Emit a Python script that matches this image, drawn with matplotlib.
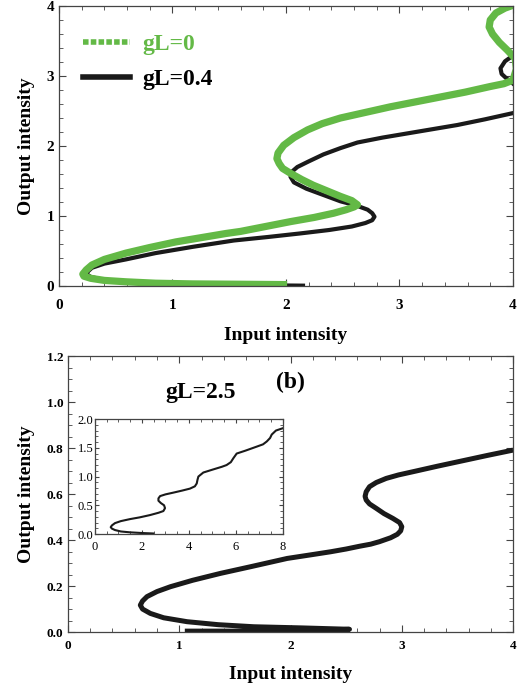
import matplotlib
matplotlib.use("Agg")
import matplotlib.pyplot as plt
from matplotlib.lines import Line2D
from matplotlib.ticker import MultipleLocator, FormatStrFormatter

plt.rcParams['font.family'] = ['Liberation Serif', 'DejaVu Serif']

# ---- panel (a): points (input, output) ----
green_in = [2.01, 1.60, 1.17, 0.85, 0.59, 0.40, 0.28, 0.22, 0.21, 0.24, 0.29, 0.40, 0.59, 0.80,
            1.03, 1.25, 1.47, 1.60, 1.82, 2.04, 2.25, 2.42, 2.53, 2.60, 2.63, 2.58, 2.48, 2.36,
            2.24, 2.14, 2.04, 1.97, 1.94, 1.92, 1.93, 1.98, 2.07, 2.19, 2.32, 2.48, 2.70, 2.92,
            3.14, 3.36, 3.58, 3.80, 3.92, 4.00, 4.03, 4.02, 3.95, 3.88, 3.82, 3.79, 3.80, 3.85,
            3.93, 4.00]
green_out = [0.02, 0.025, 0.03, 0.04, 0.06, 0.08, 0.11, 0.14, 0.17, 0.23, 0.30, 0.38, 0.47, 0.55,
             0.63, 0.69, 0.75, 0.78, 0.85, 0.92, 0.98, 1.04, 1.09, 1.13, 1.16, 1.22, 1.28, 1.36,
             1.44, 1.52, 1.61, 1.68, 1.75, 1.82, 1.90, 2.01, 2.12, 2.23, 2.32, 2.40, 2.48, 2.56,
             2.63, 2.70, 2.77, 2.85, 2.89, 2.94, 3.10, 3.25, 3.37, 3.48, 3.60, 3.70, 3.80, 3.90,
             3.97, 4.01]

black_in = [2.15, 1.80, 1.40, 1.00, 0.70, 0.50, 0.36, 0.28, 0.25, 0.25, 0.29, 0.40, 0.59, 0.85,
            1.18, 1.54, 1.84, 2.12, 2.38, 2.58, 2.70, 2.76, 2.78, 2.76, 2.72, 2.62, 2.48, 2.33,
            2.18, 2.07, 2.04, 2.05, 2.10, 2.20, 2.33, 2.48, 2.63, 2.85, 3.07, 3.29, 3.51, 3.75,
            4.00]
black_out = [0.005, 0.01, 0.02, 0.03, 0.05, 0.07, 0.10, 0.13, 0.16, 0.20, 0.26, 0.32, 0.38, 0.47,
             0.56, 0.65, 0.70, 0.75, 0.80, 0.85, 0.90, 0.94, 0.99, 1.04, 1.09, 1.15, 1.21, 1.30,
             1.39, 1.48, 1.56, 1.63, 1.70, 1.78, 1.88, 1.97, 2.05, 2.12, 2.18, 2.24, 2.30, 2.38,
             2.47]
black_loop_in = [4.03, 3.99, 3.93, 3.89, 3.90, 3.94, 3.98, 4.03]
black_loop_out = [3.33, 3.28, 3.21, 3.11, 3.03, 2.97, 2.92, 2.85]

# ---- panel (b): gL=2.5 ----
b_in = [1.05, 1.60, 2.10, 2.53, 2.10, 1.67, 1.35, 1.07, 0.86, 0.74, 0.67, 0.65, 0.67, 0.71,
        0.80, 0.92, 1.12, 1.37, 1.65, 1.97, 2.20, 2.36, 2.50, 2.62, 2.72, 2.80, 2.90, 2.96,
        2.99, 3.00, 2.98, 2.92, 2.84, 2.77, 2.71, 2.68, 2.67, 2.68, 2.71, 2.77, 2.86, 2.97,
        3.10, 3.32, 3.55, 3.77, 4.00]
b_out = [0.004, 0.004, 0.004, 0.012, 0.018, 0.023, 0.032, 0.045, 0.062, 0.081, 0.100, 0.117,
         0.135, 0.154, 0.176, 0.197, 0.225, 0.255, 0.285, 0.320, 0.337, 0.349, 0.361, 0.373,
         0.382, 0.393, 0.410, 0.425, 0.440, 0.458, 0.476, 0.494, 0.515, 0.538, 0.557, 0.574,
         0.590, 0.610, 0.632, 0.650, 0.668, 0.683, 0.697, 0.721, 0.745, 0.768, 0.791]

inset_in = [2.48, 2.00, 1.49, 1.10, 0.85, 0.72, 0.67, 0.72, 0.85, 1.10, 1.49, 1.90, 2.34, 2.70,
            2.91, 2.98, 2.94, 2.80, 2.70, 2.70, 2.77, 3.00, 3.33, 3.70, 4.04, 4.25, 4.33, 4.36,
            4.40, 4.61, 5.00, 5.40, 5.60, 5.78, 5.89, 6.03, 6.40, 6.88, 7.15, 7.31, 7.45, 7.52,
            7.70, 7.99]
inset_out = [0.01, 0.018, 0.03, 0.045, 0.07, 0.095, 0.12, 0.15, 0.19, 0.225, 0.26, 0.29, 0.33,
             0.37, 0.40, 0.45, 0.50, 0.54, 0.58, 0.62, 0.66, 0.69, 0.72, 0.755, 0.79, 0.83,
             0.88, 0.94, 1.00, 1.07, 1.12, 1.17, 1.20, 1.25, 1.32, 1.40, 1.45, 1.52, 1.56,
             1.61, 1.67, 1.73, 1.80, 1.84]

green = '#63b946'
ink = '#1a1a1a'
bold = dict(fontweight='bold')


def style(ax, xmin, ymin, fs, weight='bold'):
    ax.tick_params(which='both', direction='in', top=True, right=True, labelsize=fs,
                   colors='#444444', labelcolor='black')
    ax.tick_params(which='major', length=5, width=0.8)
    ax.tick_params(which='minor', length=3, width=0.6)
    ax.xaxis.set_minor_locator(MultipleLocator(xmin))
    ax.yaxis.set_minor_locator(MultipleLocator(ymin))
    for s in ax.spines.values():
        s.set_color('#444444')
        s.set_linewidth(0.9)
    for lab in ax.get_xticklabels() + ax.get_yticklabels():
        lab.set_fontweight(weight)


fig = plt.figure(figsize=(5.23, 6.9), dpi=100)

ax1 = fig.add_axes([0.1128, 0.5855, 0.868, 0.4058])
ax1.plot(black_in, black_out, color=ink, lw=3.0, solid_joinstyle='round')
ax1.plot(black_loop_in, black_loop_out, color=ink, lw=3.0, solid_joinstyle='round')
ax1.plot(green_in, green_out, color=green, lw=5.2, solid_joinstyle='round',
         solid_capstyle='butt')
ax1.set_xlim(0, 4)
ax1.set_ylim(0, 4)
ax1.xaxis.set_major_locator(MultipleLocator(1))
ax1.yaxis.set_major_locator(MultipleLocator(1))
style(ax1, 0.2, 0.2, 11)
ax1.tick_params(axis='x', pad=9)
ax1.set_xlabel('Input intensity', fontsize=14, labelpad=11, **bold)
ax1.set_ylabel('Output intensity', fontsize=14, labelpad=8, **bold)
handles = [Line2D([], [], color=green, lw=4, dashes=(1.0, 0.4)),
           Line2D([], [], color=ink, lw=4)]
leg = ax1.legend(handles, ['gL=0', 'gL=0.4'], loc='upper left', frameon=False,
                 prop=dict(size=17, weight='bold'), handlelength=2.0, handletextpad=0.55,
                 labelspacing=0.55, borderaxespad=0.6, bbox_to_anchor=(0.0, 0.985))
leg.get_texts()[0].set_color(green)

ax2 = fig.add_axes([0.130, 0.084, 0.851, 0.400])
ax2.plot(b_in, b_out, color=ink, lw=3.6, solid_joinstyle='round', solid_capstyle='butt')
ax2.set_xlim(0, 4)
ax2.set_ylim(0, 1.2)
ax2.xaxis.set_major_locator(MultipleLocator(1))
ax2.yaxis.set_major_locator(MultipleLocator(0.2))
ax2.yaxis.set_major_formatter(FormatStrFormatter('%.1f'))
style(ax2, 0.2, 0.05, 9.5)
ax2.tick_params(axis='x', pad=6)
ax2.set_xlabel('Input intensity', fontsize=14, labelpad=10, **bold)
ax2.set_ylabel('Output intensity', fontsize=14, labelpad=8, **bold)
ax2.text(1.19, 1.04, 'gL=2.5', fontsize=17, ha='center', va='center', **bold)
ax2.text(2.0, 1.085, '(b)', fontsize=17, ha='center', va='center', **bold)

ax3 = fig.add_axes([0.1816, 0.226, 0.3595, 0.1667])
ax3.plot(inset_in, inset_out, color=ink, lw=1.5, solid_joinstyle='round')
ax3.set_xlim(0, 8)
ax3.set_ylim(0, 2.0)
ax3.xaxis.set_major_locator(MultipleLocator(2))
ax3.yaxis.set_major_locator(MultipleLocator(0.5))
ax3.yaxis.set_major_formatter(FormatStrFormatter('%.1f'))
style(ax3, 0.5, 0.1, 9, weight='normal')
ax3.tick_params(which='major', length=3)
ax3.tick_params(which='minor', length=2)
ax3.tick_params(axis='y', pad=1)
ax3.tick_params(axis='x', pad=5)

fig.savefig('out.png', dpi=100)
